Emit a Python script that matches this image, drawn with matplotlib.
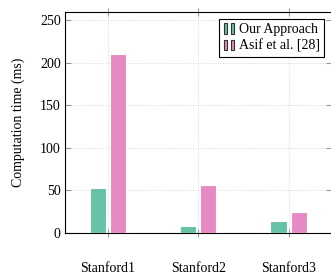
import matplotlib
matplotlib.use("Agg")
import matplotlib.pyplot as plt
import numpy as np
from matplotlib.legend_handler import HandlerBase
from matplotlib.patches import Rectangle

categories = ["Stanford1", "Stanford2", "Stanford3"]
ours = [53, 8, 14]
asif = [210, 56, 25]
series_names = ["Our Approach", "Asif et al. [28]"]
yticks = [0, 50, 100, 150, 200, 250]

green = "#66c2a5"
pink = "#e78ac3"

plt.rcParams['font.family'] = ['Liberation Serif', 'DejaVu Serif']
plt.rcParams['font.size'] = 10

fig = plt.figure(figsize=(3.31, 2.74), dpi=100)
ax = fig.add_axes([65/331, 1-233/274, 1-65/331+0.002, (233-12)/274])

x = np.arange(len(categories))
w = 0.178
off = 0.111
ax.bar(x - off, ours, width=w, color=green, edgecolor="white", linewidth=0.8, label=series_names[0], zorder=3)
ax.bar(x + off, asif, width=w, color=pink, edgecolor="white", linewidth=0.8, label=series_names[1], zorder=3)

ax.set_xlim(-0.478, 2.478)
ax.set_ylim(0, 259.4)
ax.set_yticks(yticks)
ax.set_xticks(x)
ax.set_xticklabels(categories)
ax.set_ylabel("Computation time (ms)", labelpad=11)

ax.grid(True, color="#cccccc", linestyle=(0, (1, 2)), linewidth=0.6, zorder=0)
for s in ax.spines.values():
    s.set_linewidth(0.8)
    s.set_color("black")
ax.tick_params(axis='x', which='both', direction='inout', length=6, color="#999999", pad=18, top=True, width=0.8)
ax.tick_params(axis='y', which='both', direction='in', length=4, color="#999999", pad=3, right=True, width=0.8)


class TwoBarHandler(HandlerBase):
    def create_artists(self, legend, orig_handle, xdescent, ydescent, width, height, fontsize, trans):
        fc = orig_handle.get_facecolor()
        bw = width * 0.3
        h = height * 1.1
        y0 = -ydescent - 0.05 * height
        r1 = Rectangle((-xdescent + width * 0.0, y0), bw, h, facecolor=fc, edgecolor="#333333", linewidth=0.8, transform=trans)
        r2 = Rectangle((-xdescent + width * 0.6, y0), bw, h, facecolor=fc, edgecolor="#333333", linewidth=0.8, transform=trans)
        return [r1, r2]


handles, labels = ax.get_legend_handles_labels()
hs = [h.patches[0] for h in handles]
leg = ax.legend(hs, labels, loc="upper right",
                handler_map={Rectangle: TwoBarHandler()}, fancybox=False, framealpha=1,
                edgecolor="black", handlelength=0.85, handletextpad=0.25, borderpad=0.3,
                labelspacing=0.25, borderaxespad=0.0)
leg.get_frame().set_linewidth(0.8)
leg.set_bbox_to_anchor((324/331, 1-19/274), transform=fig.transFigure)
leg.set_zorder(5)

fig.savefig("out.png", dpi=100)
